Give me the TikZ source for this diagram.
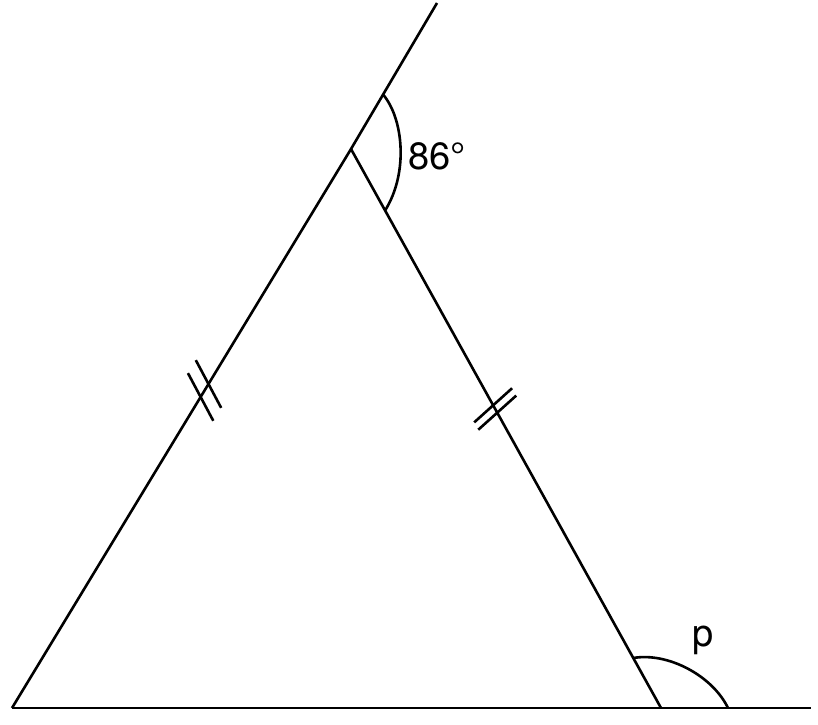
\documentclass[tikz,border=0pt]{standalone}
\usepackage{fontspec}
\setmainfont{TeX Gyre Heros}
\usetikzlibrary{calc}
\tikzset{
  geo/.style={line width=2.6pt, line cap=butt, line join=miter},
  lbl/.style={inner sep=0pt, font=\fontsize{38}{40}\selectfont}
}
\begin{document}
\begin{tikzpicture}[x=1pt,y=1pt]
\useasboundingbox (0,0) rectangle (818,724);
\coordinate (A) at (12,16);
\coordinate (B) at (351,575);
\coordinate (T) at (437,721);
\coordinate (C) at (661,16);
\coordinate (E) at (811,16);
% lines
\draw[geo] (A) -- (B) -- (T);
\draw[geo] (B) -- (C);
\draw[geo] (A) -- (E);
% top angle arc
\coordinate (a1) at ($(B)!0.373!(T)$);
\coordinate (a2) at ($(B)!0.11!(C)$);
\draw[geo] (a1) .. controls (403,606) and (409,552) .. (a2);
% bottom exterior angle arc
\coordinate (b1) at ($(C)!0.0894!(B)$);
\coordinate (b2) at (728,16);
\draw[geo] (b1) .. controls (667,72) and (712,49) .. (b2);
% ticks on left side
\coordinate (l1) at ($(A)!0.5564!(B)$);
\coordinate (l2) at ($(A)!0.5796!(B)$);
\draw[geo] ($(l1)+(118:27)$) -- ($(l1)+(-62:27)$);
\draw[geo] ($(l2)+(118:27)$) -- ($(l2)+(-62:27)$);
% ticks on right side
\coordinate (r1) at ($(B)!0.4585!(C)$);
\coordinate (r2) at ($(B)!0.4717!(C)$);
\draw[geo] ($(r1)+(222:25.5)$) -- ($(r1)+(42:25.5)$);
\draw[geo] ($(r2)+(222:25.5)$) -- ($(r2)+(42:25.5)$);
% labels
\node[lbl, anchor=base west] (t86) at (408.5,554) {86°};
\node[lbl, anchor=base west] (tp) at (692,77.4) {p};
\end{tikzpicture}
\end{document}
